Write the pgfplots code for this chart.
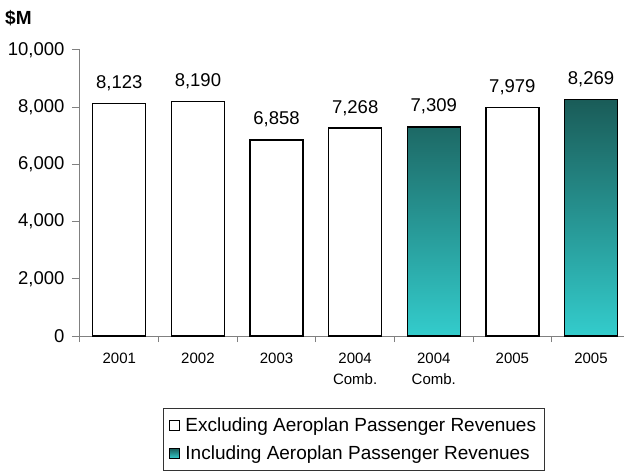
\documentclass[border=0pt]{standalone}
\usepackage{fontspec}
\setmainfont{Liberation Sans}
\usepackage{pgfplots}
\pgfplotsset{compat=1.18}
\definecolor{tealtop}{RGB}{26,92,88}
\definecolor{tealbot}{RGB}{51,204,204}
\definecolor{axgray}{RGB}{128,128,128}
\begin{document}
\begin{tikzpicture}
\useasboundingbox (-80bp,-136bp) rectangle (544bp,336bp);
\begin{axis}[
  at={(0,0)}, anchor=south west,
  scale only axis, width=544bp, height=286bp,
  xmin=-0.5, xmax=6.42, ymin=0, ymax=10000,
  axis x line*=bottom, axis y line*=left,
  axis line style={axgray, line width=1bp},
  tick align=outside,
  ytick={0,2000,...,10000},
  scaled y ticks=false,
  major tick length=8bp,
  ytick style={axgray, line width=1bp},
  y tick label style={font=\fontsize{18.5bp}{21bp}\selectfont, xshift=-4bp},
  yticklabel style={/pgf/number format/1000 sep={,}},
  /pgf/number format/assume math mode=true,
  xtick={0,...,6},
  xticklabels={2001,2002,2003,{2004\\Comb.},{2004\\Comb.},2005,2005},
  x tick label style={font=\fontsize{15bp}{21bp}\selectfont, align=center, yshift=-6bp},
  major x tick style={draw=none},
  minor xtick={-0.5,0.5,...,5.5},
  minor x tick style={axgray, line width=1bp},
  minor tick length=6bp,
  nodes near coords,
  every node near coord/.append style={font=\fontsize{18.5bp}{21bp}\selectfont, anchor=base, yshift=15bp, /pgf/number format/1000 sep={,}, /pgf/number format/assume math mode=true, text=black},
  legend style={at={(0.1526,-0.252)}, anchor=north west, draw=black!80, line width=0.8bp,
    font=\fontsize{19bp}{22bp}\selectfont, row sep=9bp, inner xsep=6bp, inner ysep=7bp},
  legend cell align=left,
  legend image code/.code={\draw[line width=0.8bp] (0bp,-5bp) rectangle (10bp,5bp); \path (13bp,0bp);},
]
\addplot[ybar, bar width=53bp, bar shift=0pt, draw=black, fill=white, line width=1.3bp]
  coordinates {(0,8123) (1,8190) (2,6858) (3,7268) (5,7979)};
\addlegendentry{Excluding Aeroplan Passenger Revenues}
\addplot[ybar, bar width=53bp, bar shift=0pt, draw=black, top color=tealtop, bottom color=tealbot, line width=1.3bp]
  coordinates {(4,7309) (6,8269)};
\addlegendentry{Including Aeroplan Passenger Revenues}
\end{axis}
\node[anchor=west, inner sep=0pt, font=\bfseries\fontsize{19bp}{22bp}\selectfont] at (-75bp,318bp) {\$M};
\end{tikzpicture}
\end{document}
